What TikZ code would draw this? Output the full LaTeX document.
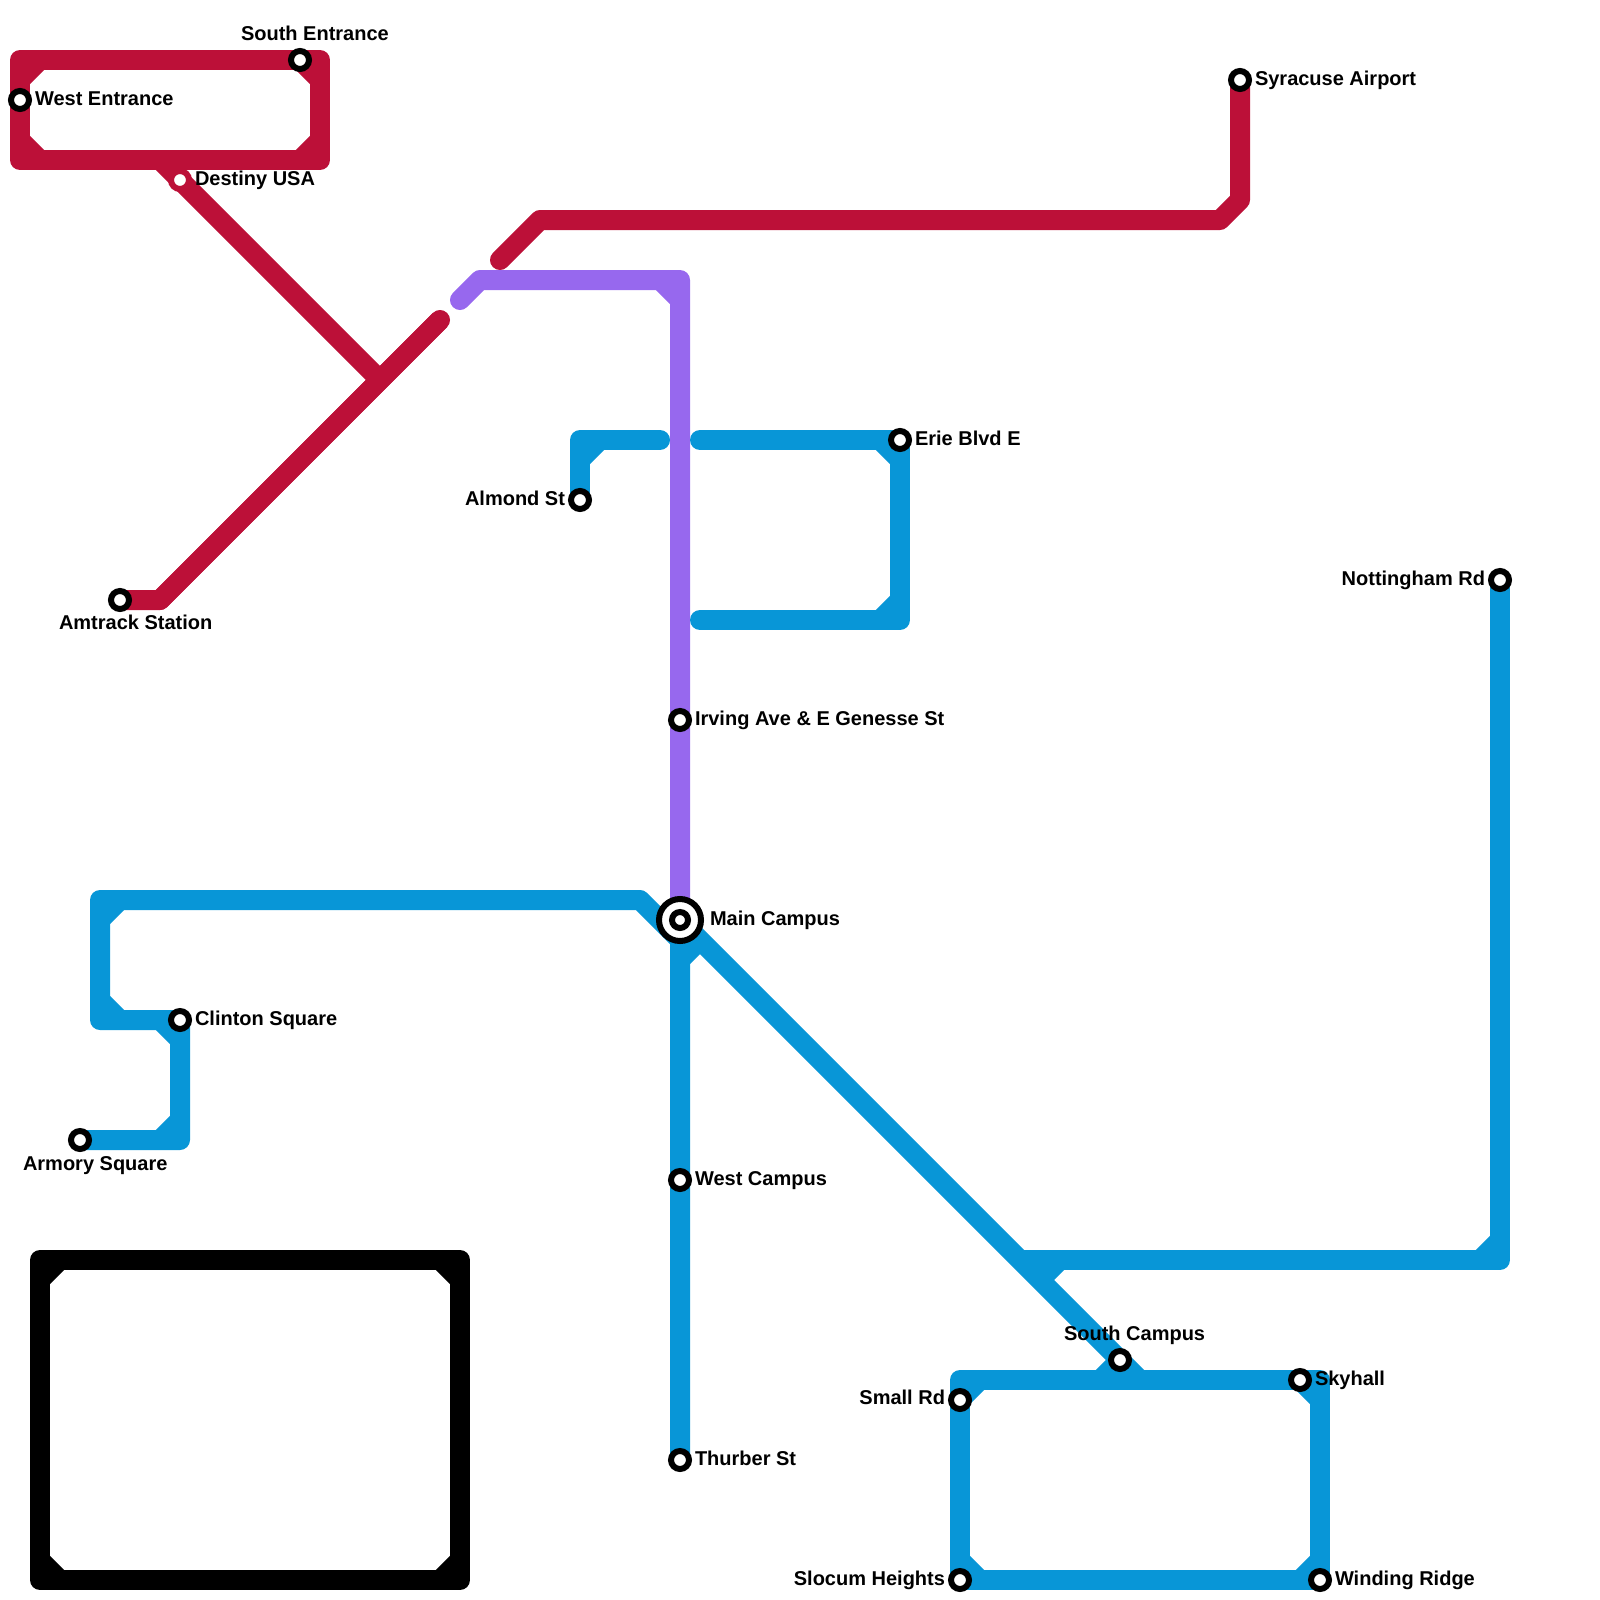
\documentclass[tikz,border=0pt]{standalone}
\usepackage{fontspec}
\setmainfont{Liberation Sans}
\usetikzlibrary{backgrounds}
\definecolor{redline}{HTML}{BC1038}
\definecolor{blueline}{HTML}{0896D7}
\definecolor{purpleline}{HTML}{9768EE}
\tikzset{
  x=1bp,y=-1bp,
  stop/.style={circle,draw=black,fill=white,line width=6bp,minimum size=18bp,inner sep=0pt,outer sep=0pt},
  stopin/.style={stop,minimum size=16bp},
  stopred/.style={stop,draw=redline},
  hub/.style={circle,draw=black,fill=white,line width=6bp,minimum size=42bp,inner sep=0pt,outer sep=0pt},
  rail/.style={line width=20bp,line join=round,line cap=butt},
  railr/.style={rail,line cap=round},
  lab/.style={font=\bfseries\fontsize{20bp}{24bp}\selectfont,inner sep=0pt,outer sep=0pt,text=black},
  labl/.style={lab,anchor=base west},
  labr/.style={lab,anchor=base east},
}
\begin{document}
\begin{tikzpicture}
\useasboundingbox (0,0) rectangle (1600,1600);
% stations
\node[stop] (west) at (20,100) {};
\node[stop] (south) at (300,60) {};
\node[stopred] (destiny) at (180,180) {};
\node[stop] (airport) at (1240,80) {};
\node[stop] (amtrack) at (120,600) {};
\node[stop] (almond) at (580,500) {};
\node[stop] (erie) at (900,440) {};
\node[stop] (irving) at (680,720) {};
\node[hub] (main) at (680,920) {};
\node[stopin] (mainin) at (680,920) {};
\node[stop] (clinton) at (180,1020) {};
\node[stop] (armory) at (80,1140) {};
\node[stop] (westc) at (680,1180) {};
\node[stop] (thurber) at (680,1460) {};
\node[stop] (notting) at (1500,580) {};
\node[stop] (southc) at (1120,1360) {};
\node[stop] (skyhall) at (1300,1380) {};
\node[stop] (smallrd) at (960,1400) {};
\node[stop] (slocum) at (960,1580) {};
\node[stop] (winding) at (1320,1580) {};
% labels
\node[labl] (lwest) at (35,105.5) {West Entrance};
\node[labl] (lsouth) at (241,40.5) {South Entrance};
\node[labl] (ldestiny) at (195,185) {Destiny USA};
\node[labl] (lairport) at (1255,85.5) {Syracuse Airport};
\node[labl] (lamtrack) at (59,629) {Amtrack Station};
\node[labr] (lalmond) at (565,505) {Almond St};
\node[labl] (lerie) at (915,445) {Erie Blvd E};
\node[labl] (lirving) at (695,725) {Irving Ave \& E Genesse St};
\node[labl] (lmain) at (710,925) {Main Campus};
\node[labl] (lclinton) at (195,1025) {Clinton Square};
\node[labl] (larmory) at (23,1170) {Armory Square};
\node[labl] (lwestc) at (695,1185) {West Campus};
\node[labl] (lthurber) at (695,1465) {Thurber St};
\node[labr] (lnotting) at (1485,585) {Nottingham Rd};
\node[labl] (lsouthc) at (1064,1340) {South Campus};
\node[labl] (lskyhall) at (1315,1385) {Skyhall};
\node[labr] (lsmallrd) at (945,1404.5) {Small Rd};
\node[labr] (lslocum) at (945,1585) {Slocum Heights};
\node[labl] (lwinding) at (1335,1585) {Winding Ridge};
% bends
\foreach \n/\x/\y in {
  ra/20/60, rb/320/60, rc/320/160, rd/20/160,
  r1a/40/60, r1b/20/80, r2a/300/60, r2b/320/80, r3a/320/140, r3b/300/160, r4a/40/160, r4b/20/140,
  rs/160/160, ry/380/380, rt/160/600, re/440/320,
  ca/500/260, cb/540/220, cc/1220/220, cd/1240/200,
  pa/460/300, pb/480/280, pc/680/280, pe/660/280, pf/680/300, pg/680/900,
  aa/580/440, ab/660/440, ac/600/440, ad/580/460,
  ea/700/440, eb/900/440, ec/900/620, ed/700/620, ee/880/440, ef/900/460, eg/900/600, eh/880/620,
  la/640/900, lb/680/940, lc/100/900, ld/100/1020, le/180/1140,
  l1a/120/900, l1b/100/920, l2a/100/1000, l2b/120/1020, l3a/160/1020, l3b/180/1040, l4a/180/1120, l4b/160/1140,
  ma/680/960, mb/700/940, mc/1140/1380,
  na/1020/1260, nb/1500/1260, nc/1500/1240, nd/1480/1260, ne/1060/1260, nf/1040/1280,
  sa/960/1380, sb/1320/1380, sc/1100/1380,
  s1a/980/1380, s2a/1320/1400, s3a/960/1560, s3b/980/1580, s4a/1300/1580, s4b/1320/1560,
  ka/40/1260, kb/460/1260, kc/460/1580, kd/40/1580,
  k1a/60/1260, k1b/40/1280, k2a/440/1260, k2b/460/1280, k3a/460/1560, k3b/440/1580, k4a/60/1580, k4b/40/1560}
  {\coordinate (\n) at (\x,\y);}
\begin{scope}[on background layer]
% red
\draw[rail,redline] (ra) -- (rb) -- (rc) -- (rd) -- cycle;
\draw[rail,redline] (r1a) -- (r1b);
\draw[rail,redline] (r2a) -- (r2b);
\draw[rail,redline] (r3a) -- (r3b);
\draw[rail,redline] (r4a) -- (r4b);
\draw[rail,redline] (rs) -- (ry);
\draw[rail,redline] (amtrack.center) -- (rt) -- (re);
\draw[railr,redline] (rt) -- (re);
\draw[railr,redline] (ca) -- (cb) -- (cc) -- (cd) -- (airport.center);
% purple
\draw[railr,purpleline] (pa) -- (pb) -- (pc) -- (pg);
\draw[rail,purpleline] (pe) -- (pf);
% blue
\draw[railr,blueline] (almond.center) -- (aa) -- (ab);
\draw[rail,blueline] (ac) -- (ad);
\draw[railr,blueline] (ea) -- (eb) -- (ec) -- (ed);
\draw[rail,blueline] (ee) -- (ef);
\draw[rail,blueline] (eg) -- (eh);
\draw[rail,blueline] (armory.center) -- (le) -- (clinton.center) -- (ld) -- (lc) -- (la) -- (lb) -- (thurber.center);
\draw[rail,blueline] (l1a) -- (l1b);
\draw[rail,blueline] (l2a) -- (l2b);
\draw[rail,blueline] (l3a) -- (l3b);
\draw[rail,blueline] (l4a) -- (l4b);
\draw[rail,blueline] (ma) -- (mb);
\draw[rail,blueline] (main.center) -- (mc);
\draw[rail,blueline] (na) -- (nb) -- (notting.center);
\draw[rail,blueline] (nc) -- (nd);
\draw[rail,blueline] (ne) -- (nf);
\draw[rail,blueline] (sa) -- (sb) -- (winding.center) -- (slocum.center) -- cycle;
\draw[rail,blueline] (s1a) -- (smallrd.center);
\draw[rail,blueline] (skyhall.center) -- (s2a);
\draw[rail,blueline] (s3a) -- (s3b);
\draw[rail,blueline] (s4a) -- (s4b);
\draw[rail,blueline] (southc.center) -- (sc);
% black
\draw[rail,black] (ka) -- (kb) -- (kc) -- (kd) -- cycle;
\draw[rail,black] (k1a) -- (k1b);
\draw[rail,black] (k2a) -- (k2b);
\draw[rail,black] (k3a) -- (k3b);
\draw[rail,black] (k4a) -- (k4b);
\end{scope}
\end{tikzpicture}
\end{document}
